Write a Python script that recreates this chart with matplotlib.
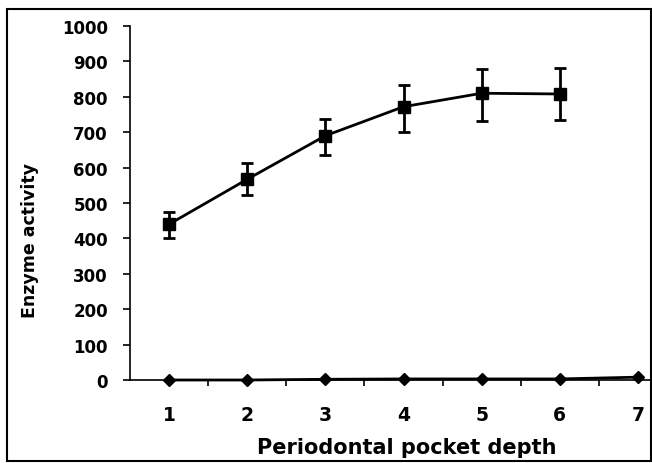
import matplotlib
matplotlib.use("Agg")
import matplotlib.pyplot as plt
from matplotlib.patches import Rectangle

depth = [1, 2, 3, 4, 5, 6]
activity = [440, 567, 690, 772, 810, 808]
err_low = [400, 523, 635, 700, 732, 735]
err_high = [475, 612, 738, 833, 878, 881]

depth2 = [1, 2, 3, 4, 5, 6, 7]
activity2 = [0, 0, 2, 3, 3, 3, 8]

yticks = [0, 100, 200, 300, 400, 500, 600, 700, 800, 900, 1000]
xticklabels = ["1", "2", "3", "4", "5", "6", "7"]

plt.rcParams['font.family'] = ['DejaVu Sans']
plt.rcParams['font.weight'] = 'bold'

fig = plt.figure(figsize=(6.52, 4.64), dpi=100)
fig.patches.append(Rectangle((7/652, 2/464), 644/652, 452/464, transform=fig.transFigure,
                             fill=False, edgecolor='black', linewidth=1.5))

ax = fig.add_axes([130/652, 83/464, 547/652, 354/464])
ax.set_xlim(0.5, 7.5)
ax.set_ylim(0, 1000)

yerr = [[a - l for a, l in zip(activity, err_low)], [h - a for a, h in zip(activity, err_high)]]
ax.errorbar(depth, activity, yerr=yerr, fmt='s-', color='black', markersize=8,
            linewidth=2, elinewidth=2, capsize=4.5, capthick=2, clip_on=False, zorder=3)
ax.plot(depth2, activity2, 'D-', color='black', markersize=6, linewidth=2, clip_on=False, zorder=3)

for s in ['top', 'right']:
    ax.spines[s].set_visible(False)
ax.spines['left'].set_linewidth(1.2)
ax.spines['bottom'].set_linewidth(1.2)

ax.set_yticks(yticks)
ax.set_yticklabels([str(v) for v in yticks], fontsize=12, fontweight='bold')
ax.set_xticks([1.5, 2.5, 3.5, 4.5, 5.5, 6.5, 7.5])
ax.set_xticklabels([])
ax.set_xticks(depth2, minor=True)
ax.set_xticklabels(xticklabels, minor=True, fontsize=13.5, fontweight='bold')
ax.tick_params(axis='y', direction='out', length=5, width=1.2, pad=11)
ax.tick_params(axis='x', which='major', direction='out', length=4, width=1.2)
ax.tick_params(axis='x', which='minor', length=0, pad=18)

fig.text(407/652, 1 - 448/464, 'Periodontal pocket depth', ha='center', va='center',
         fontsize=15, fontweight='bold')
fig.text(30/652, 1 - 241/464, 'Enzyme activity', ha='center', va='center', rotation=90,
         fontsize=12.5, fontweight='bold')

fig.savefig('out.png', dpi=100)
